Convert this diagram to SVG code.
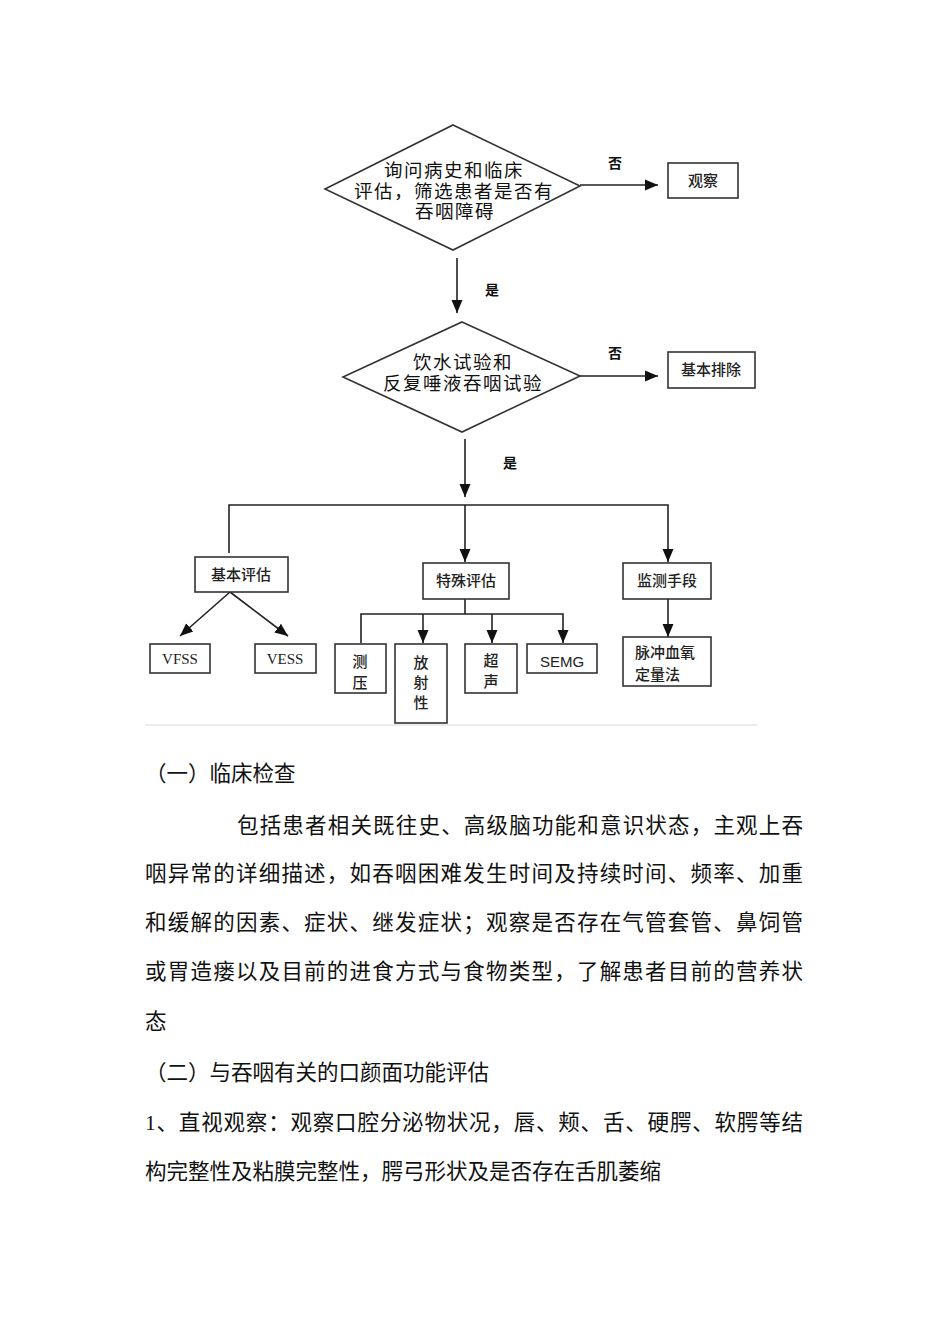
<svg xmlns="http://www.w3.org/2000/svg" width="950" height="1344" viewBox="0 0 950 1344">
<style>
.shape{fill:#fff;stroke:#333;stroke-width:1.6}
.line{fill:none;stroke:#222;stroke-width:1.6}
.dt{font-family:"Noto Sans CJK SC",sans-serif;font-size:18.5px;letter-spacing:1.5px;fill:#111;text-anchor:middle}
.bt{font-family:"Noto Sans CJK SC",sans-serif;font-size:15px;fill:#222;text-anchor:middle;font-weight:500}
.lb{font-family:"Noto Sans CJK SC",sans-serif;font-size:14px;fill:#111;text-anchor:middle;font-weight:700}
.sf{font-family:"Liberation Serif",serif;font-size:15px;fill:#222;text-anchor:middle}
.body{font-family:"Liberation Serif","Noto Sans CJK SC",serif;font-size:21.5px;fill:#111}
</style>
<defs>
<marker id="ah" markerUnits="userSpaceOnUse" markerWidth="14" markerHeight="14" viewBox="0 0 14 14" refX="13" refY="7" orient="auto">
<path d="M0,1.5 L13,7 L0,12.5 Z" fill="#111"/>
</marker>
</defs>
<rect width="950" height="1344" fill="#fff"/>

<g id="connectors">
<line class="line" x1="580" y1="185" x2="658" y2="185" marker-end="url(#ah)"/>
<line class="line" x1="457" y1="258" x2="457" y2="313" marker-end="url(#ah)"/>
<line class="line" x1="580" y1="376" x2="658" y2="376" marker-end="url(#ah)"/>
<line class="line" x1="465" y1="439" x2="465" y2="497" marker-end="url(#ah)"/>
<polyline class="line" points="229,553 229,505 668,505 668,562" marker-end="url(#ah)"/>
<line class="line" x1="465" y1="505" x2="465" y2="562" marker-end="url(#ah)"/>
<line class="line" x1="230" y1="592" x2="180" y2="636" marker-end="url(#ah)"/>
<line class="line" x1="230" y1="592" x2="288" y2="636" marker-end="url(#ah)"/>
<line class="line" x1="465" y1="599" x2="465" y2="614"/>
<polyline class="line" points="361,643 361,614 563,614 563,643" marker-end="url(#ah)"/>
<line class="line" x1="423" y1="614" x2="423" y2="643" marker-end="url(#ah)"/>
<line class="line" x1="492" y1="614" x2="492" y2="643" marker-end="url(#ah)"/>
<line class="line" x1="668" y1="599" x2="668" y2="637" marker-end="url(#ah)"/>
<text class="lb" x="615" y="168">否</text>
<text class="lb" x="492" y="295">是</text>
<text class="lb" x="615" y="358">否</text>
<text class="lb" x="510" y="468">是</text>
</g>

<g id="d1">
<polygon class="shape" points="453,125 580,186 453,250 325,189"/>
<text class="dt"><tspan x="454" y="177">询问病史和临床</tspan><tspan x="454" y="197.5">评估，筛选患者是否有</tspan><tspan x="455" y="218">吞咽障碍</tspan></text>
</g>
<g id="observe">
<rect class="shape" x="668" y="163" width="70" height="35"/>
<text class="bt" x="703" y="186">观察</text>
</g>
<g id="d2">
<polygon class="shape" points="462,322 580,376 462,432 343,377"/>
<text class="dt"><tspan x="463" y="369">饮水试验和</tspan><tspan x="463" y="389.5">反复唾液吞咽试验</tspan></text>
</g>
<g id="exclude">
<rect class="shape" x="668" y="352" width="87" height="36"/>
<text class="bt" x="711" y="375">基本排除</text>
</g>
<g id="basic">
<rect class="shape" x="195" y="557" width="93" height="35"/>
<text class="bt" x="241" y="580">基本评估</text>
</g>
<g id="special">
<rect class="shape" x="423" y="563" width="86" height="36"/>
<text class="bt" x="466" y="586">特殊评估</text>
</g>
<g id="monitor">
<rect class="shape" x="623" y="563" width="88" height="36"/>
<text class="bt" x="667" y="586">监测手段</text>
</g>
<g id="vfss">
<rect class="shape" x="150" y="644" width="60" height="29"/>
<text class="sf" x="180" y="664">VFSS</text>
</g>
<g id="vess">
<rect class="shape" x="255" y="644" width="61" height="29"/>
<text class="sf" x="285" y="664">VESS</text>
</g>
<g id="manometry">
<rect class="shape" x="335" y="644" width="51" height="49"/>
<text class="bt"><tspan x="360" y="667">测</tspan><tspan x="360" y="688">压</tspan></text>
</g>
<g id="radio">
<rect class="shape" x="395" y="644" width="52" height="79"/>
<text class="bt"><tspan x="421" y="668">放</tspan><tspan x="421" y="688">射</tspan><tspan x="421" y="708">性</tspan></text>
</g>
<g id="ultra">
<rect class="shape" x="465" y="644" width="52" height="49"/>
<text class="bt"><tspan x="491" y="666">超</tspan><tspan x="491" y="687">声</tspan></text>
</g>
<g id="semg">
<rect class="shape" x="527" y="644" width="70" height="29"/>
<text class="bt" x="562" y="667" style="font-family:'Liberation Sans',sans-serif">SEMG</text>
</g>
<g id="oximetry">
<rect class="shape" x="623" y="637" width="88" height="49"/>
<text class="bt" style="text-anchor:start"><tspan x="635" y="658">脉冲血氧</tspan><tspan x="635" y="680">定量法</tspan></text>
</g>
<line x1="145" y1="725" x2="757" y2="725" stroke="#e6e6e6" stroke-width="1.5"/>

<g id="body">
<text class="body" x="145" y="781">（一）临床检查</text>
<text class="body" x="237" y="833" textLength="566" lengthAdjust="spacing">包括患者相关既往史、高级脑功能和意识状态，主观上吞</text>
<text class="body" x="145" y="881" textLength="658" lengthAdjust="spacing">咽异常的详细描述，如吞咽困难发生时间及持续时间、频率、加重</text>
<text class="body" x="145" y="930" textLength="658" lengthAdjust="spacing">和缓解的因素、症状、继发症状；观察是否存在气管套管、鼻饲管</text>
<text class="body" x="145" y="979" textLength="658" lengthAdjust="spacing">或胃造瘘以及目前的进食方式与食物类型，了解患者目前的营养状</text>
<text class="body" x="145" y="1029">态</text>
<text class="body" x="145" y="1080">（二）与吞咽有关的口颜面功能评估</text>
<text class="body" x="145" y="1130" textLength="658" lengthAdjust="spacing">1、直视观察：观察口腔分泌物状况，唇、颊、舌、硬腭、软腭等结</text>
<text class="body" x="145" y="1179">构完整性及粘膜完整性，腭弓形状及是否存在舌肌萎缩</text>
</g>
</svg>
